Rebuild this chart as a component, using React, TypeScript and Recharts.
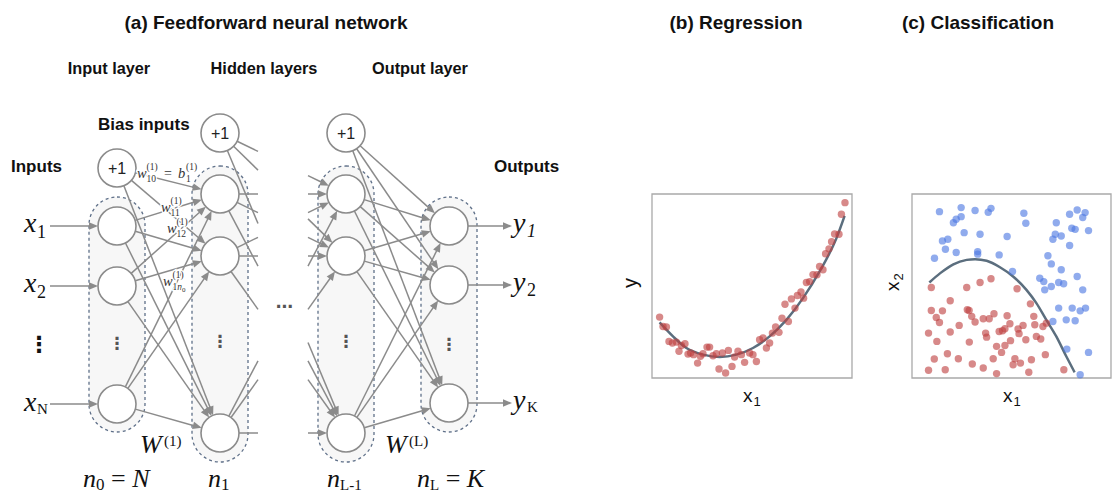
import React from 'react';
import {
  ScatterChart,
  ComposedChart,
  Scatter,
  Line,
  XAxis,
  YAxis,
  ReferenceLine,
  ReferenceArea,
} from 'recharts';

// ---------- (a) network layout (diagram units = pixels of the left panel) ----------
const NET_W = 560;
const NET_H = 497;
const NODE_R = 19;
const EDGE_COLOR = '#8b8b8b';
const BOX_STROKE = '#5f7089';

const COL_IN = 117;
const COL_H1 = 220;
const COL_HL = 346;
const COL_OUT = 449;
const GAP_LEFT = 258;
const GAP_RIGHT = 308;

const BIAS_IN_Y = 168;
const BIAS_HIDDEN_Y = 133;
const INPUT_ROWS = [226, 286, 404];
const HIDDEN_ROWS = [194, 256, 433];
const OUTPUT_ROWS = [226, 285, 403];

const LAYER_BOXES = [
  { x1: 89, x2: 145, y1: 197, y2: 432 },
  { x1: 192, x2: 248, y1: 166, y2: 462 },
  { x1: 318, x2: 374, y1: 166, y2: 462 },
  { x1: 421, x2: 477, y1: 197, y2: 432 },
];

type NetNode = { x: number; y: number; bias?: boolean };
type NetEdge = {
  x1: number;
  y1: number;
  x2: number;
  y2: number;
  trimStart: number;
  trimEnd: number;
  arrow: boolean;
};

const netNodes: NetNode[] = [
  { x: COL_IN, y: BIAS_IN_Y, bias: true },
  ...INPUT_ROWS.map((y) => ({ x: COL_IN, y })),
  { x: COL_H1, y: BIAS_HIDDEN_Y, bias: true },
  ...HIDDEN_ROWS.map((y) => ({ x: COL_H1, y })),
  { x: COL_HL, y: BIAS_HIDDEN_Y, bias: true },
  ...HIDDEN_ROWS.map((y) => ({ x: COL_HL, y })),
  ...OUTPUT_ROWS.map((y) => ({ x: COL_OUT, y })),
];

const yAtX = (x1: number, y1: number, x2: number, y2: number, xc: number) =>
  y1 + ((xc - x1) / (x2 - x1)) * (y2 - y1);

const buildEdges = (): NetEdge[] => {
  const list: NetEdge[] = [];
  const inSources = [BIAS_IN_Y, ...INPUT_ROWS];
  const hiddenSources = [BIAS_HIDDEN_Y, ...HIDDEN_ROWS];
  // input layer -> first hidden layer
  inSources.forEach((s) =>
    HIDDEN_ROWS.forEach((t) =>
      list.push({ x1: COL_IN, y1: s, x2: COL_H1, y2: t, trimStart: NODE_R, trimEnd: NODE_R, arrow: true })
    )
  );
  // first hidden layer -> (elided) next layer
  hiddenSources.forEach((s) =>
    HIDDEN_ROWS.forEach((t) =>
      list.push({
        x1: COL_H1,
        y1: s,
        x2: GAP_LEFT,
        y2: yAtX(COL_H1, s, COL_HL, t, GAP_LEFT),
        trimStart: NODE_R,
        trimEnd: 0,
        arrow: false,
      })
    )
  );
  // (elided) previous layer -> last hidden layer
  hiddenSources.forEach((s) =>
    HIDDEN_ROWS.forEach((t) =>
      list.push({
        x1: GAP_RIGHT,
        y1: yAtX(COL_H1, s, COL_HL, t, GAP_RIGHT),
        x2: COL_HL,
        y2: t,
        trimStart: 0,
        trimEnd: NODE_R,
        arrow: true,
      })
    )
  );
  // last hidden layer -> output layer
  hiddenSources.forEach((s) =>
    OUTPUT_ROWS.forEach((t) =>
      list.push({ x1: COL_HL, y1: s, x2: COL_OUT, y2: t, trimStart: NODE_R, trimEnd: NODE_R, arrow: true })
    )
  );
  // external inputs and outputs
  INPUT_ROWS.forEach((y) =>
    list.push({ x1: 50, y1: y, x2: COL_IN, y2: y, trimStart: 0, trimEnd: NODE_R, arrow: true })
  );
  OUTPUT_ROWS.forEach((y) =>
    list.push({ x1: COL_OUT, y1: y, x2: 512, y2: y, trimStart: NODE_R, trimEnd: 0, arrow: true })
  );
  return list;
};
const netEdges = buildEdges();

// ---------- (b) regression data ----------
const regressionPoints = [
  [3.8, 33.1], [5.5, 28.0], [7.2, 27.7], [8.5, 19.9], [10.2, 19.0], [12.2, 19.5],
  [13.5, 14.5], [14.7, 17.7], [16.5, 18.6], [18.0, 13.0], [19.3, 13.6], [20.8, 12.7],
  [22.8, 8.1], [24.2, 11.8], [25.5, 13.2], [27.5, 16.8], [28.8, 16.8], [30.5, 12.1],
  [32.2, 13.2], [33.5, 4.9], [35.2, 13.6], [36.8, 2.7], [38.2, 15.0], [40.0, 6.3],
  [41.3, 11.4], [43.0, 14.5], [44.7, 12.7], [46.3, 8.5], [48.8, 13.6], [50.5, 12.7],
  [52.2, 9.0], [53.8, 20.8], [55.5, 21.7], [57.2, 16.3], [58.8, 19.0], [60.2, 24.4],
  [61.8, 27.7], [63.5, 24.8], [65.0, 32.5], [66.5, 40.1], [68.2, 30.7], [69.7, 43.0],
  [71.5, 38.0], [72.7, 44.8], [74.5, 46.7], [75.8, 43.4], [77.2, 51.9], [78.8, 52.4],
  [80.5, 56.2], [82.5, 56.1], [83.8, 60.6], [85.5, 58.8], [86.8, 67.5], [88.5, 70.2],
  [89.8, 74.1], [91.3, 78.3], [93.5, 78.1], [94.7, 89.0], [96.5, 95.3],
].map(([x, y]) => ({ x, y }));

const regressionCurve = [
  [3.8, 30.2], [10.5, 22.6], [17.2, 16.3], [25.5, 12.7], [33.8, 11.4], [42.2, 12.7],
  [50.5, 16.3], [58.8, 22.6], [67.2, 31.6], [75.5, 43.4], [83.8, 57.9], [92.2, 75.9],
  [96.3, 88.1],
].map(([x, y]) => ({ x, y }));

// ---------- (c) classification data ----------
const classA = [
  [13.8, 90.4], [20.8, 84.4], [22.2, 86.3], [24.7, 87.7], [24.7, 92.6], [26.2, 79.0],
  [31.7, 91.0], [38.3, 90.1], [39.7, 92.2], [34.2, 78.1], [15.3, 74.5], [18.0, 75.4],
  [16.8, 70.0], [22.2, 68.2], [11.3, 65.1], [33.0, 68.7], [33.0, 67.3], [43.8, 66.9],
  [47.8, 76.9], [56.2, 89.5], [57.2, 84.1], [50.5, 57.9], [64.2, 54.2], [66.2, 52.4],
  [66.7, 47.9], [70.0, 49.7], [68.3, 66.4], [70.0, 62.0], [72.5, 84.4], [72.0, 78.1],
  [70.8, 75.4], [75.0, 77.2], [79.2, 89.0], [83.0, 91.3], [85.8, 87.2], [87.0, 89.9],
  [80.3, 81.4], [82.0, 80.8], [88.7, 80.1], [79.2, 72.0], [75.0, 58.8], [73.7, 51.9],
  [76.2, 51.2], [83.0, 55.2], [85.8, 47.9], [73.7, 38.0], [80.5, 38.0], [84.5, 36.5],
  [87.2, 38.0], [77.5, 31.6], [82.0, 31.1], [70.8, 30.7], [77.8, 15.7], [88.7, 13.9],
  [84.5, 1.8],
].map(([x, y]) => ({ x, y }));

const classB = [
  [9.7, 49.2], [27.5, 49.2], [34.2, 51.9], [39.7, 53.9], [52.8, 48.5], [19.2, 42.0],
  [9.7, 36.7], [15.3, 36.5], [27.8, 37.1], [28.7, 36.7], [12.2, 32.9], [13.8, 30.2],
  [30.0, 33.5], [31.7, 30.4], [35.8, 32.2], [38.8, 32.2], [41.2, 34.9], [47.8, 33.8],
  [59.5, 40.3], [61.2, 33.5], [23.7, 28.6], [19.2, 25.0], [8.3, 24.4], [37.0, 24.4],
  [37.5, 22.2], [43.8, 25.3], [45.5, 25.7], [46.7, 26.8], [49.2, 29.5], [53.3, 26.6],
  [55.8, 28.6], [53.8, 24.1], [61.7, 28.9], [65.8, 28.0], [67.5, 29.8], [62.5, 22.6],
  [64.7, 21.2], [12.5, 19.9], [28.8, 19.5], [42.5, 17.2], [46.7, 17.7], [49.5, 20.3],
  [57.2, 20.8], [17.8, 13.2], [11.2, 10.3], [23.3, 10.5], [40.8, 10.5], [45.0, 13.9],
  [51.7, 10.5], [60.0, 9.9], [67.0, 12.7], [30.3, 7.6], [35.8, 5.4], [50.8, 7.2],
  [54.5, 8.1], [8.3, 4.2], [16.7, 4.5], [42.5, 2.4], [58.7, 3.1], [76.3, 4.5],
].map(([x, y]) => ({ x, y }));

const boundaryCurve = [
  [8.7, 51.9], [14.2, 57.0], [20.8, 61.8], [27.5, 64.2], [31.7, 64.6], [37.5, 63.7],
  [44.2, 60.2], [50.8, 55.2], [57.5, 47.9], [62.5, 40.7], [67.5, 31.6], [72.5, 22.6],
  [77.5, 11.8], [81.7, 3.1],
].map(([x, y]) => ({ x, y }));

const RED = '#bf4040';
const BLUE = '#4c77e2';
const CURVE = '#5b6e7e';

// ---------- shapes ----------
const EdgeShape = (p: any) => {
  const { x1, y1, x2, y2, trimStart, trimEnd, arrow } = p;
  const dx = x2 - x1;
  const dy = y2 - y1;
  const len = Math.hypot(dx, dy) || 1;
  const ux = dx / len;
  const uy = dy / len;
  const sx = x1 + ux * trimStart;
  const sy = y1 + uy * trimStart;
  const tx = x2 - ux * trimEnd;
  const ty = y2 - uy * trimEnd;
  const AL = 9;
  const AW = 3.8;
  const lx = arrow ? tx - ux * (AL - 1) : tx;
  const ly = arrow ? ty - uy * (AL - 1) : ty;
  const bx = tx - ux * AL;
  const by = ty - uy * AL;
  return (
    <g>
      <line x1={sx} y1={sy} x2={lx} y2={ly} stroke={EDGE_COLOR} strokeWidth={1.5} />
      {arrow && (
        <polygon
          points={`${tx},${ty} ${bx - uy * AW},${by + ux * AW} ${bx + uy * AW},${by - ux * AW}`}
          fill={EDGE_COLOR}
        />
      )}
    </g>
  );
};

const BoxShape = (p: any) => (
  <rect
    x={p.x}
    y={p.y}
    width={p.width}
    height={p.height}
    rx={p.width / 2}
    ry={p.width / 2}
    fill="#f7f7f7"
    stroke={BOX_STROKE}
    strokeWidth={1.3}
    strokeDasharray="3 3"
  />
);

const NodeShape = (p: any) => (
  <g>
    <circle cx={p.cx} cy={p.cy} r={NODE_R} fill="#ffffff" stroke={EDGE_COLOR} strokeWidth={1.6} />
    {p.payload && p.payload.bias && (
      <text
        x={p.cx}
        y={p.cy + 5.5}
        textAnchor="middle"
        fontFamily="'Liberation Sans', Arial, sans-serif"
        fontSize={16}
        fill="#222"
      >
        +1
      </text>
    )}
  </g>
);

const makeDot = (color: string) => (p: any) =>
  <circle cx={p.cx} cy={p.cy} r={3.7} fill={color} fillOpacity={0.62} />;

// ---------- text helpers ----------
const SANS = "'Liberation Sans', Arial, sans-serif";
const SERIF = "'Liberation Serif', 'Times New Roman', serif";
const halo = { stroke: '#ffffff', strokeWidth: 2.5, paintOrder: 'stroke' as const };

const WLabel = ({ x, y, sub }: { x: number; y: number; sub: React.ReactNode }) => (
  <g fontFamily={SERIF} fill="#333" style={halo}>
    <text x={x} y={y} fontSize={14.5} fontStyle="italic">w</text>
    <text x={x + 9.5} y={y - 8.5} fontSize={9.5}>(1)</text>
    <text x={x + 9.5} y={y + 3.5} fontSize={9.5}>{sub}</text>
  </g>
);

const VDots = ({ x, y, color, size, weight }: any) => (
  <text x={x} y={y} textAnchor="middle" fontFamily="'DejaVu Sans', sans-serif" fontSize={size} fill={color} fontWeight={weight}>
    ⋮
  </text>
);

const Overlay = () => (
  <svg
    width={1113}
    height={497}
    style={{ position: 'absolute', left: 0, top: 0, pointerEvents: 'none' }}
  >
    {/* panel titles */}
    <g fontFamily={SANS} fontWeight="bold" fill="#111" textAnchor="middle">
      <text x={266} y={28.5} fontSize={19}>(a) Feedforward neural network</text>
      <text x={736} y={28.5} fontSize={19}>(b) Regression</text>
      <text x={978} y={28.5} fontSize={19}>(c) Classification</text>
      <text x={109} y={73.5} fontSize={16.3}>Input layer</text>
      <text x={264} y={73.5} fontSize={16.3}>Hidden layers</text>
      <text x={420} y={73.5} fontSize={16.3}>Output layer</text>
    </g>
    <g fontFamily={SANS} fontWeight="bold" fill="#111" fontSize={17}>
      <text x={98} y={130}>Bias inputs</text>
      <text x={11} y={172}>Inputs</text>
      <text x={494} y={172}>Outputs</text>
    </g>

    {/* weight labels */}
    <WLabel x={137} y={178} sub="10" />
    <g fontFamily={SERIF} fill="#333" style={halo}>
      <text x={164} y={178} fontSize={14}>=</text>
      <text x={178} y={178} fontSize={14.5} fontStyle="italic">b</text>
      <text x={186} y={169.5} fontSize={9.5}>(1)</text>
      <text x={186} y={181.5} fontSize={9.5}>1</text>
    </g>
    <WLabel x={161} y={212} sub="11" />
    <WLabel x={167} y={233} sub="12" />
    <WLabel
      x={163}
      y={286}
      sub={
        <>
          1<tspan fontStyle="italic">n</tspan>
          <tspan fontSize={7} dy={2}>0</tspan>
        </>
      }
    />

    {/* inputs and outputs */}
    <g fontFamily={SERIF} fill="#111">
      <text x={24} y={232} fontSize={28} fontStyle="italic">x</text>
      <text x={37} y={238} fontSize={18}>1</text>
      <text x={24} y={292} fontSize={28} fontStyle="italic">x</text>
      <text x={37} y={298} fontSize={18}>2</text>
      <text x={24} y={411} fontSize={28} fontStyle="italic">x</text>
      <text x={37} y={414} fontSize={15}>N</text>

      <text x={513} y={232} fontSize={28} fontStyle="italic">y</text>
      <text x={527} y={237} fontSize={18} fontStyle="italic">1</text>
      <text x={513} y={291} fontSize={28} fontStyle="italic">y</text>
      <text x={527} y={296} fontSize={18}>2</text>
      <text x={513} y={409} fontSize={28} fontStyle="italic">y</text>
      <text x={527} y={412} fontSize={15}>K</text>

      <text x={140} y={453} fontSize={26} fontStyle="italic">W</text>
      <text x={164} y={446} fontSize={15}>(1)</text>
      <text x={385} y={453} fontSize={26} fontStyle="italic">W</text>
      <text x={409} y={446} fontSize={15}>(L)</text>

      <text x={83} y={487} fontSize={26}>
        <tspan fontStyle="italic">n</tspan>
        <tspan fontSize={17} dy={3}>0</tspan>
        <tspan dy={-3}> = </tspan>
        <tspan fontStyle="italic">N</tspan>
      </text>
      <text x={208} y={487} fontSize={26}>
        <tspan fontStyle="italic">n</tspan>
        <tspan fontSize={17} dy={3}>1</tspan>
      </text>
      <text x={327} y={487} fontSize={26}>
        <tspan fontStyle="italic">n</tspan>
        <tspan fontSize={15} dy={3}>L-1</tspan>
      </text>
      <text x={417} y={487} fontSize={26}>
        <tspan fontStyle="italic">n</tspan>
        <tspan fontSize={15} dy={3}>L</tspan>
        <tspan dy={-3}> = </tspan>
        <tspan fontStyle="italic">K</tspan>
      </text>
    </g>

    {/* elision marks */}
    <VDots x={39} y={352} color="#111" size={22} weight="bold" />
    <VDots x={117} y={349} color="#555" size={17} weight="bold" />
    <VDots x={220} y={347} color="#555" size={17} weight="bold" />
    <VDots x={346} y={347} color="#555" size={17} weight="bold" />
    <VDots x={449} y={350} color="#555" size={17} weight="bold" />
    <text x={284.5} y={312} textAnchor="middle" fontFamily="'DejaVu Sans', sans-serif" fontSize={17} fontWeight="bold" fill="#555">
      ⋯
    </text>

    {/* axis labels of (b) and (c) */}
    <g fontFamily={SANS} fill="#111">
      <text x={637} y={283} fontSize={20} textAnchor="middle" transform="rotate(-90 637 283)">y</text>
      <text x={743} y={402} fontSize={19}>x</text>
      <text x={753.5} y={406} fontSize={13}>1</text>
      <text x={1003} y={402} fontSize={19}>x</text>
      <text x={1013.5} y={406} fontSize={13}>1</text>
      <g transform="rotate(-90 899 283)">
        <text x={891} y={283} fontSize={19}>x</text>
        <text x={901.5} y={287} fontSize={13}>2</text>
      </g>
    </g>
  </svg>
);

const NetworkPanel = () => (
  <ScatterChart width={NET_W} height={NET_H} margin={{ top: 0, right: 0, bottom: 0, left: 0 }}>
    <XAxis type="number" dataKey="x" domain={[0, NET_W]} hide />
    <YAxis type="number" dataKey="y" domain={[0, NET_H]} reversed hide />
    {LAYER_BOXES.map((b, i) => (
      <ReferenceArea key={`box-${i}`} x1={b.x1} x2={b.x2} y1={b.y1} y2={b.y2} ifOverflow="visible" shape={BoxShape} />
    ))}
    {netEdges.map((e, i) => (
      <ReferenceLine
        key={`edge-${i}`}
        segment={[
          { x: e.x1, y: e.y1 },
          { x: e.x2, y: e.y2 },
        ]}
        ifOverflow="visible"
        shape={(p: any) => (
          <EdgeShape x1={p.x1} y1={p.y1} x2={p.x2} y2={p.y2} trimStart={e.trimStart} trimEnd={e.trimEnd} arrow={e.arrow} />
        )}
      />
    ))}
    <Scatter data={netNodes} shape={NodeShape} isAnimationActive={false} />
  </ScatterChart>
);

const PlotFrame = () => (
  <ReferenceArea x1={0} x2={100} y1={0} y2={100} fill="none" stroke="#a9a9a9" strokeWidth={1.3} ifOverflow="visible" />
);

const RegressionPanel = () => (
  <ComposedChart width={280} height={260} margin={{ top: 44, right: 28, bottom: 32, left: 52 }}>
    <XAxis type="number" dataKey="x" domain={[0, 100]} hide />
    <YAxis type="number" dataKey="y" domain={[0, 100]} hide />
    {PlotFrame()}
    <Scatter data={regressionPoints} shape={makeDot(RED)} isAnimationActive={false} />
    <Line data={regressionCurve} dataKey="y" type="monotone" stroke={CURVE} strokeWidth={2.5} dot={false} isAnimationActive={false} />
  </ComposedChart>
);

const ClassificationPanel = () => (
  <ComposedChart width={243} height={260} margin={{ top: 44, right: 2, bottom: 32, left: 42 }}>
    <XAxis type="number" dataKey="x" domain={[0, 100]} hide />
    <YAxis type="number" dataKey="y" domain={[0, 100]} hide />
    {PlotFrame()}
    <Scatter data={classA} shape={makeDot(BLUE)} isAnimationActive={false} />
    <Scatter data={classB} shape={makeDot(RED)} isAnimationActive={false} />
    <Line data={boundaryCurve} dataKey="y" type="monotone" stroke={CURVE} strokeWidth={2.5} dot={false} isAnimationActive={false} />
  </ComposedChart>
);

export default function App() {
  return (
    <div
      style={{
        position: 'absolute',
        left: 0,
        top: 0,
        width: 1113,
        height: 497,
        background: '#ffffff',
        overflow: 'hidden',
        fontFamily: SANS,
      }}
    >
      <div style={{ position: 'absolute', left: 0, top: 0 }}>
        <NetworkPanel />
      </div>
      <div style={{ position: 'absolute', left: 600, top: 150 }}>
        <RegressionPanel />
      </div>
      <div style={{ position: 'absolute', left: 870, top: 150 }}>
        <ClassificationPanel />
      </div>
      <Overlay />
    </div>
  );
}
